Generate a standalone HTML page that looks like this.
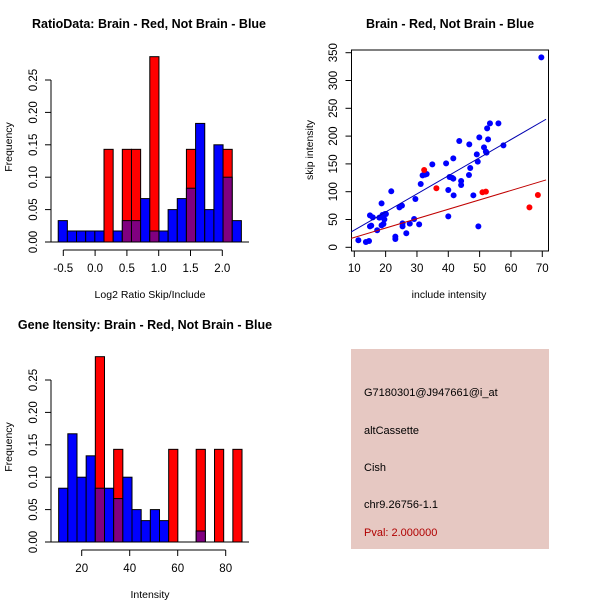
<!DOCTYPE html>
<html><head><meta charset="utf-8"><style>
body{margin:0;background:#fff}
svg{display:block;font-family:"Liberation Sans",sans-serif}
</style></head><body>
<svg id="c" width="600" height="600" xmlns="http://www.w3.org/2000/svg">
<rect width="600" height="600" fill="#fff"/>
<rect x="351" y="349" width="198" height="200" fill="#e6c8c2"/>
<text x="364" y="396" font-size="11">G7180301@J947661@i_at</text>
<text x="364" y="434" font-size="11">altCassette</text>
<text x="364" y="471" font-size="11">Cish</text>
<text x="364" y="508" font-size="11">chr9.26756-1.1</text>
<text x="364" y="536" font-size="11" fill="#b00000">Pval: 2.000000</text>
</svg>
<script>
// ---- data ----
const ratioBlue=[0.033,0.017,0.017,0.017,0.017,0,0.017,0.033,0.033,0.067,0.017,0.017,0.05,0.067,0.083,0.183,0.05,0.15,0.1,0.033];
const ratioRed=[0,0,0,0,0,0.143,0,0.143,0.143,0,0.286,0,0,0,0.143,0,0,0,0.143,0];
const ratioStart=-0.58, ratioWidth=0.144;
const ratioTicks=[-0.5,0,0.5,1,1.5,2];
const ratioTickLabels=["-0.5","0.0","0.5","1.0","1.5","2.0"];
const intBlue=[0.083,0.167,0.1,0.133,0.083,0.083,0.067,0.1,0.05,0.033,0.05,0.033,0,0,0,0.017,0,0,0,0];
const intRed=[0,0,0,0,0.286,0,0.143,0,0,0,0,0,0.143,0,0,0.143,0,0.143,0,0.143];
const intStart=10.4, intWidth=3.82;
const intTicks=[20,40,60,80];
const freqTicks=[0,0.05,0.1,0.15,0.2,0.25];
const freqTickLabels=["0.00","0.05","0.10","0.15","0.20","0.25"];
const blueX=[11.3,13.7,14.7,15.0,15.0,15.4,15.9,17.3,18.0,18.7,18.7,19.3,19.0,19.8,19.6,20.1,21.8,23.1,23.1,24.4,25.2,25.4,25.4,26.6,27.7,29.5,29.1,30.7,31.2,31.8,32.6,33.1,34.9,39.3,40.0,40.0,40.4,41.2,41.6,41.6,41.7,43.5,44.1,44.1,46.7,46.6,47.0,48.0,49.1,49.4,49.6,49.9,51.4,52.0,52.2,52.4,52.7,53.3,56.0,57.6,69.7];
const blueY=[12.6,9.6,11.4,57.5,37.7,38.9,53.9,30.6,53.3,79.1,39.5,41.9,58.1,59.9,50.3,59.9,100.7,19.2,15.0,71.9,74.9,43.1,37.7,25.2,42.5,86.9,50.9,41.3,113.8,129.4,130.6,131.8,149.2,151.0,55.7,103.1,126.4,125.2,123.4,160.0,93.5,191.1,119.2,112.0,185.1,130.0,142.6,93.5,167.2,154.0,37.7,197.7,179.7,172.0,170.2,213.9,194.1,222.9,222.9,183.3,341.5];
const redX=[32.3,36.2,50.9,52.0,65.9,68.6];
const redY=[139.0,106.1,98.9,100.1,71.9,94.1];
const blueFit=[-1.8,3.26];
const redFit=[0.8,1.69];
const scXTicks=[10,20,30,40,50,60,70];
const scYTicks=[0,50,100,150,200,250,300,350];

const svg=document.getElementById('c');
const NS='http://www.w3.org/2000/svg';
const TF=11.5;
function el(t,a,txt){const e=document.createElementNS(NS,t);for(const k in a)e.setAttribute(k,a[k]);if(txt!==undefined)e.textContent=txt;svg.appendChild(e);return e;}

function freqAxis(y0,prefix){
  const fy=v=>y0-v*648;
  let ax=el('line',{x1:51,x2:51,y1:fy(0),y2:fy(0.25),stroke:'#000'});
  
  
  freqTicks.forEach((v,i)=>{
    const t=el('line',{x1:45,x2:51,y1:fy(v),y2:fy(v),stroke:'#000'});
    
    
    const l=el('text',{x:0,y:0,'font-size':TF,'text-anchor':'middle',transform:`translate(37,${fy(v)}) rotate(-90)`},freqTickLabels[i]);
    
    
  });
  const yl=el('text',{x:0,y:0,'font-size':10.5,'text-anchor':'middle',transform:`translate(12,${y0-95}) rotate(-90)`},'Frequency');
  
  
  return fy;
}
function hist(prefix,y0,blue,red,start,w,fx){
  const fy=freqAxis(y0,prefix);
  el('line',{x1:51,x2:249,y1:y0,y2:y0,stroke:'#000'});
  for(let i=0;i<blue.length;i++){
    const x1=fx(start+i*w),x2=fx(start+(i+1)*w);
    const b=blue[i],r=red[i];
    const draw=(v,col,nm)=>{if(v<=0)return;const e=el('rect',{x:x1,y:fy(v),width:x2-x1,height:y0-fy(v),fill:col,stroke:'#000','stroke-width':1});
      
      };
    if(r>=b){draw(r,'#ff0000',prefix+'-bar-red');if(b>0)draw(b,r>0?'#800080':'#0000ff',prefix+'-bar-overlap');}
    else{draw(b,'#0000ff',prefix+'-bar-blue');if(r>0)draw(r,'#800080',prefix+'-bar-overlap');}
  }
}
// ratio histogram
const fxR=v=>63.3+(v+0.5)*63.6;
hist('ratio-hist',242,ratioBlue,ratioRed,ratioStart,ratioWidth,fxR);
let a=el('line',{x1:fxR(-0.5),x2:fxR(2),y1:250,y2:250,stroke:'#000'});


ratioTicks.forEach((v,i)=>{
  const t=el('line',{x1:fxR(v),x2:fxR(v),y1:250,y2:256,stroke:'#000'});
  
  
  const l=el('text',{x:fxR(v),y:272,'font-size':TF,'text-anchor':'middle'},ratioTickLabels[i]);
  
  
});
let t1=el('text',{x:150,y:298,'font-size':10.5,'text-anchor':'middle'},'Log2 Ratio Skip/Include');


let t2=el('text',{x:149,y:28,'font-size':12.5,'font-weight':'bold','text-anchor':'middle'},'RatioData: Brain - Red, Not Brain - Blue');



// intensity histogram
const fxI=v=>81.7+(v-20)*2.4;
hist('intensity-hist',542,intBlue,intRed,intStart,intWidth,fxI);
let a2=el('line',{x1:fxI(20),x2:fxI(80),y1:550,y2:550,stroke:'#000'});


intTicks.forEach(v=>{
  const t=el('line',{x1:fxI(v),x2:fxI(v),y1:550,y2:556,stroke:'#000'});
  
  
  const l=el('text',{x:fxI(v),y:572,'font-size':TF,'text-anchor':'middle'},String(v));
  
  
});
let t3=el('text',{x:150,y:598,'font-size':10.5,'text-anchor':'middle'},'Intensity');


let t4=el('text',{x:145,y:329,'font-size':12.5,'font-weight':'bold','text-anchor':'middle'},'Gene Itensity: Brain - Red, Not Brain - Blue');



// scatter
const sx=v=>354.3+(v-10)*3.133;
const sy=v=>247.3-v*0.556;
let box=el('rect',{x:351.5,y:50,width:197,height:201,fill:'none',stroke:'#000'});


scXTicks.forEach(v=>{
  const t=el('line',{x1:sx(v),x2:sx(v),y1:251,y2:257,stroke:'#000'});
  
  
  const l=el('text',{x:sx(v),y:272,'font-size':TF,'text-anchor':'middle'},String(v));
  
  
});
scYTicks.forEach(v=>{
  const t=el('line',{x1:345.5,x2:351.5,y1:sy(v),y2:sy(v),stroke:'#000'});
  
  
  const l=el('text',{x:0,y:0,'font-size':TF,'text-anchor':'middle',transform:`translate(337,${sy(v)}) rotate(-90)`},String(v));
  
  
});
function fitLine(f,col,nm){
  const x1=9,x2=71.2;
  const l=el('line',{x1:sx(x1),y1:sy(f[0]+f[1]*x1),x2:sx(x2),y2:sy(f[0]+f[1]*x2),stroke:col,'stroke-width':1});
  
  
}
blueX.forEach((x,i)=>{
  const c=el('circle',{cx:sx(x),cy:sy(blueY[i]),r:3,fill:'#0000ff'});
  
  
});
redX.forEach((x,i)=>{
  const c=el('circle',{cx:sx(x),cy:sy(redY[i]),r:3,fill:'#ff0000'});
  
  
});
fitLine(blueFit,'#0000b0','scatter-fit-line-blue');
fitLine(redFit,'#c00000','scatter-fit-line-red');
let t5=el('text',{x:449,y:298,'font-size':10.5,'text-anchor':'middle'},'include intensity');


let t6=el('text',{x:0,y:0,'font-size':10.5,'text-anchor':'middle',transform:'translate(313,150) rotate(-90)'},'skip intensity');


let t7=el('text',{x:450,y:28,'font-size':12.5,'font-weight':'bold','text-anchor':'middle'},'Brain - Red, Not Brain - Blue');


</script>
</body></html>
